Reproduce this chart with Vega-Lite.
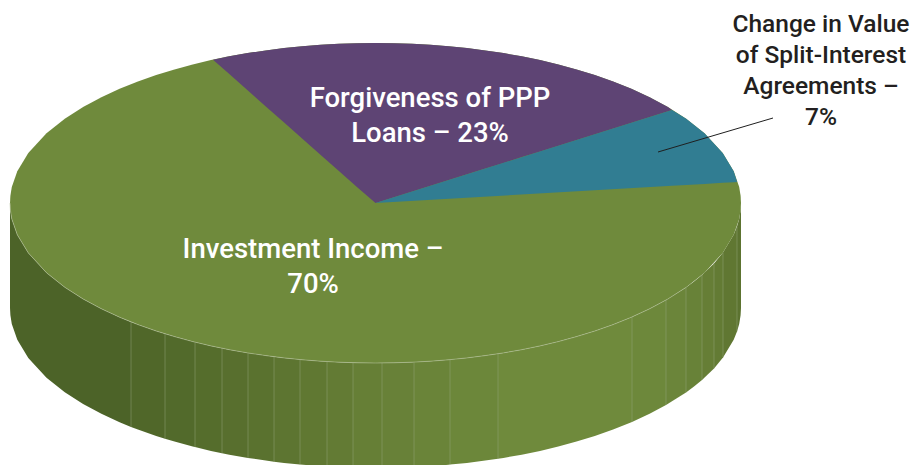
{"$schema":"https://vega.github.io/schema/vega-lite/v6.json","width":915,"height":465,"autosize":{"type":"fit","contains":"padding"},"padding":0,"background":"white","view":{"stroke":null},
"config":{"axis":{"grid":false}},
"datasets":{
"wall":[
{"strip":1,"x":10,"edge":203,"base":308},{"strip":1,"x":10.4,"edge":210.2,"base":315.2},{"strip":1,"x":11.8,"edge":219,"base":324},{"strip":1,"x":17.3,"edge":234.8,"base":339.8},{"strip":1,"x":28.3,"edge":252.9,"base":357.9},{"strip":1,"x":46.5,"edge":272.8,"base":377.8},{"strip":1,"x":64.8,"edge":287.3,"base":392.3},{"strip":1,"x":83.1,"edge":299,"base":404},{"strip":1,"x":101.4,"edge":308.8,"base":413.8},{"strip":1,"x":119.6,"edge":317.2,"base":422.2},{"strip":1,"x":131,"edge":321.9,"base":426.9},
{"strip":2,"x":131,"edge":321.9,"base":426.9},{"strip":2,"x":137.9,"edge":324.6,"base":429.6},{"strip":2,"x":156.2,"edge":331,"base":436},{"strip":2,"x":165,"edge":333.8,"base":438.8},
{"strip":3,"x":165,"edge":333.8,"base":438.8},{"strip":3,"x":174.5,"edge":336.6,"base":441.6},{"strip":3,"x":192.7,"edge":341.6,"base":446.6},{"strip":3,"x":195,"edge":342.1,"base":447.1},
{"strip":4,"x":195,"edge":342.1,"base":447.1},{"strip":4,"x":211,"edge":345.9,"base":450.9},{"strip":4,"x":222,"edge":348.2,"base":453.2},
{"strip":5,"x":222,"edge":348.2,"base":453.2},{"strip":5,"x":229.3,"edge":349.7,"base":454.7},{"strip":5,"x":248,"edge":352.9,"base":457.9},
{"strip":6,"x":248,"edge":352.9,"base":457.9},{"strip":6,"x":265.8,"edge":355.6,"base":460.6},{"strip":6,"x":274,"edge":356.7,"base":461.7},
{"strip":7,"x":274,"edge":356.7,"base":461.7},{"strip":7,"x":284.1,"edge":357.9,"base":462.9},{"strip":7,"x":300,"edge":359.5,"base":464.5},
{"strip":8,"x":300,"edge":359.5,"base":464.5},{"strip":8,"x":320.7,"edge":361.2,"base":466.2},{"strip":8,"x":327,"edge":361.6,"base":466.6},
{"strip":9,"x":327,"edge":361.6,"base":466.6},{"strip":9,"x":338.9,"edge":362.2,"base":467.2},{"strip":9,"x":353,"edge":362.7,"base":467.7},
{"strip":10,"x":353,"edge":362.7,"base":467.7},{"strip":10,"x":375.5,"edge":363,"base":468},{"strip":10,"x":382,"edge":363,"base":468},
{"strip":11,"x":382,"edge":363,"base":468},{"strip":11,"x":393.8,"edge":362.8,"base":467.8},{"strip":11,"x":412.1,"edge":362.2,"base":467.2},{"strip":11,"x":414,"edge":362.1,"base":467.1},
{"strip":12,"x":414,"edge":362.1,"base":467.1},{"strip":12,"x":430.3,"edge":361.2,"base":466.2},{"strip":12,"x":448.6,"edge":359.8,"base":464.8},{"strip":12,"x":450,"edge":359.6,"base":464.6},
{"strip":13,"x":450,"edge":359.6,"base":464.6},{"strip":13,"x":466.9,"edge":357.9,"base":462.9},{"strip":13,"x":485.2,"edge":355.6,"base":460.6},{"strip":13,"x":498,"edge":353.8,"base":458.8},
{"strip":14,"x":498,"edge":353.8,"base":458.8},{"strip":14,"x":503.4,"edge":352.9,"base":457.9},{"strip":14,"x":521.7,"edge":349.7,"base":454.7},{"strip":14,"x":540,"edge":345.9,"base":450.9},{"strip":14,"x":558.3,"edge":341.6,"base":446.6},{"strip":14,"x":576.5,"edge":336.6,"base":441.6},{"strip":14,"x":594.8,"edge":331,"base":436},{"strip":14,"x":613.1,"edge":324.6,"base":429.6},{"strip":14,"x":631.4,"edge":317.2,"base":422.2},{"strip":14,"x":632,"edge":316.9,"base":421.9},
{"strip":15,"x":632,"edge":316.9,"base":421.9},{"strip":15,"x":649.6,"edge":308.8,"base":413.8},{"strip":15,"x":666,"edge":300,"base":405},
{"strip":16,"x":666,"edge":300,"base":405},{"strip":16,"x":686,"edge":287.4,"base":392.4},
{"strip":17,"x":686,"edge":287.4,"base":392.4},{"strip":17,"x":694,"edge":281.6,"base":386.6},{"strip":17,"x":702,"edge":274.9,"base":379.9},
{"strip":18,"x":702,"edge":274.9,"base":379.9},{"strip":18,"x":714,"edge":263.4,"base":368.4},
{"strip":19,"x":714,"edge":263.4,"base":368.4},{"strip":19,"x":723,"edge":252.6,"base":357.6},
{"strip":20,"x":723,"edge":252.6,"base":357.6},{"strip":20,"x":733.7,"edge":234.8,"base":339.8},{"strip":20,"x":737,"edge":226.5,"base":331.5},
{"strip":21,"x":737,"edge":226.5,"base":331.5},{"strip":21,"x":739.2,"edge":219,"base":324},{"strip":21,"x":740.6,"edge":210.2,"base":315.2},{"strip":21,"x":741,"edge":203,"base":308}
],
"seams":[
{"x":131,"edge":321.9,"base":426.9},{"x":165,"edge":333.8,"base":438.8},{"x":195,"edge":342.1,"base":447.1},{"x":222,"edge":348.2,"base":453.2},{"x":248,"edge":352.9,"base":457.9},{"x":274,"edge":356.7,"base":461.7},{"x":300,"edge":359.5,"base":464.5},{"x":327,"edge":361.6,"base":466.6},{"x":353,"edge":362.7,"base":467.7},{"x":382,"edge":363,"base":468},{"x":414,"edge":362.1,"base":467.1},{"x":450,"edge":359.6,"base":464.6},{"x":498,"edge":353.8,"base":458.8},{"x":632,"edge":316.9,"base":421.9},{"x":666,"edge":300,"base":405},{"x":686,"edge":287.4,"base":392.4},{"x":702,"edge":274.9,"base":379.9},{"x":714,"edge":263.4,"base":368.4},{"x":723,"edge":252.6,"base":357.6},{"x":737,"edge":226.5,"base":331.5}
],
"top":[
{"x":10,"upper":203,"lower":203},{"x":10.4,"upper":195.8,"lower":210.2},{"x":11.8,"upper":187,"lower":219},{"x":17.3,"upper":171.2,"lower":234.8},{"x":28.3,"upper":153.1,"lower":252.9},{"x":46.5,"upper":133.2,"lower":272.8},{"x":64.8,"upper":118.7,"lower":287.3},{"x":83.1,"upper":107,"lower":299},{"x":101.4,"upper":97.2,"lower":308.8},{"x":119.6,"upper":88.8,"lower":317.2},{"x":137.9,"upper":81.4,"lower":324.6},{"x":156.2,"upper":75,"lower":331},{"x":174.5,"upper":69.4,"lower":336.6},{"x":192.7,"upper":64.4,"lower":341.6},{"x":211,"upper":60.1,"lower":345.9},{"x":229.3,"upper":56.3,"lower":349.7},{"x":247.6,"upper":53.1,"lower":352.9},{"x":265.8,"upper":50.4,"lower":355.6},{"x":284.1,"upper":48.1,"lower":357.9},{"x":302.4,"upper":46.2,"lower":359.8},{"x":320.7,"upper":44.8,"lower":361.2},{"x":338.9,"upper":43.8,"lower":362.2},{"x":357.2,"upper":43.2,"lower":362.8},{"x":375.5,"upper":43,"lower":363},{"x":393.8,"upper":43.2,"lower":362.8},{"x":412.1,"upper":43.8,"lower":362.2},{"x":430.3,"upper":44.8,"lower":361.2},{"x":448.6,"upper":46.2,"lower":359.8},{"x":466.9,"upper":48.1,"lower":357.9},{"x":485.2,"upper":50.4,"lower":355.6},{"x":503.4,"upper":53.1,"lower":352.9},{"x":521.7,"upper":56.3,"lower":349.7},{"x":540,"upper":60.1,"lower":345.9},{"x":558.3,"upper":64.4,"lower":341.6},{"x":576.5,"upper":69.4,"lower":336.6},{"x":594.8,"upper":75,"lower":331},{"x":613.1,"upper":81.4,"lower":324.6},{"x":631.4,"upper":88.8,"lower":317.2},{"x":649.6,"upper":97.2,"lower":308.8},{"x":667.9,"upper":107,"lower":299},{"x":686.2,"upper":118.7,"lower":287.3},{"x":704.5,"upper":133.2,"lower":272.8},{"x":722.7,"upper":153.1,"lower":252.9},{"x":733.7,"upper":171.2,"lower":234.8},{"x":739.2,"upper":187,"lower":219},{"x":740.6,"upper":195.8,"lower":210.2},{"x":741,"upper":203,"lower":203}
],
"slices":[
{"slice":"Forgiveness of PPP Loans","x":213,"upper":59.7,"lower":59.7},{"slice":"Forgiveness of PPP Loans","x":229.3,"upper":56.3,"lower":74.1},{"slice":"Forgiveness of PPP Loans","x":247.6,"upper":53.1,"lower":90.3},{"slice":"Forgiveness of PPP Loans","x":265.8,"upper":50.4,"lower":106.4},{"slice":"Forgiveness of PPP Loans","x":284.1,"upper":48.1,"lower":122.6},{"slice":"Forgiveness of PPP Loans","x":302.4,"upper":46.2,"lower":138.7},{"slice":"Forgiveness of PPP Loans","x":320.7,"upper":44.8,"lower":155},{"slice":"Forgiveness of PPP Loans","x":338.9,"upper":43.8,"lower":171.1},{"slice":"Forgiveness of PPP Loans","x":357.2,"upper":43.2,"lower":187.2},{"slice":"Forgiveness of PPP Loans","x":375.5,"upper":43,"lower":203},{"slice":"Forgiveness of PPP Loans","x":393.8,"upper":43.2,"lower":197.3},{"slice":"Forgiveness of PPP Loans","x":412.1,"upper":43.8,"lower":191.5},{"slice":"Forgiveness of PPP Loans","x":430.3,"upper":44.8,"lower":185.8},{"slice":"Forgiveness of PPP Loans","x":448.6,"upper":46.2,"lower":180.1},{"slice":"Forgiveness of PPP Loans","x":466.9,"upper":48.1,"lower":174.3},{"slice":"Forgiveness of PPP Loans","x":485.2,"upper":50.4,"lower":168.6},{"slice":"Forgiveness of PPP Loans","x":503.4,"upper":53.1,"lower":162.9},{"slice":"Forgiveness of PPP Loans","x":521.7,"upper":56.3,"lower":157.1},{"slice":"Forgiveness of PPP Loans","x":540,"upper":60.1,"lower":151.4},{"slice":"Forgiveness of PPP Loans","x":558.3,"upper":64.4,"lower":145.7},{"slice":"Forgiveness of PPP Loans","x":576.5,"upper":69.4,"lower":139.9},{"slice":"Forgiveness of PPP Loans","x":594.8,"upper":75,"lower":134.2},{"slice":"Forgiveness of PPP Loans","x":613.1,"upper":81.4,"lower":128.5},{"slice":"Forgiveness of PPP Loans","x":631.4,"upper":88.8,"lower":122.7},{"slice":"Forgiveness of PPP Loans","x":649.6,"upper":97.2,"lower":117},{"slice":"Forgiveness of PPP Loans","x":667.9,"upper":107,"lower":111.3},{"slice":"Forgiveness of PPP Loans","x":672,"upper":110,"lower":110},
{"slice":"Change in Value of Split-Interest Agreements","x":375.5,"upper":203,"lower":203},{"slice":"Change in Value of Split-Interest Agreements","x":672,"upper":110,"lower":185.8},{"slice":"Change in Value of Split-Interest Agreements","x":686.2,"upper":118.7,"lower":185},{"slice":"Change in Value of Split-Interest Agreements","x":704.5,"upper":133.2,"lower":183.9},{"slice":"Change in Value of Split-Interest Agreements","x":722.7,"upper":153.1,"lower":182.8},{"slice":"Change in Value of Split-Interest Agreements","x":733.7,"upper":171.2,"lower":182.2},{"slice":"Change in Value of Split-Interest Agreements","x":737,"upper":181.5,"lower":182}
],
"leader":[{"x":658,"y":152,"x2":773,"y2":118}],
"inside":[{"label":"Investment Income –\n70%","x":313,"y":249.5},{"label":"Forgiveness of PPP\nLoans – 23%","x":430,"y":98.5}],
"outside":[{"label":"Change in Value\nof Split-Interest\nAgreements –\n7%","x":821,"y":25}]
},
"layer":[
{"data":{"name":"wall"},"mark":{"type":"area","interpolate":"linear","clip":true},"encoding":{"x":{"field":"x","type":"quantitative","scale":{"domain":[0,915],"nice":false},"axis":null},"y":{"field":"edge","type":"quantitative","scale":{"domain":[465,0],"nice":false,"zero":false},"axis":null},"y2":{"field":"base"},"color":{"field":"strip","type":"nominal","legend":null,"scale":{"domain":[1,2,3,4,5,6,7,8,9,10,11,12,13,14,15,16,17,18,19,20,21],"range":["#4c6328","#506729","#526a2b","#556d2c","#586f2e","#5a722f","#5d7531","#607832","#637b34","#667f36","#688138","#6a8439","#6c873a","#6f8a3c","#6d883b","#6b853a","#688238","#667e36","#637b34","#607732","#5c7330"]}}}},
{"data":{"name":"seams"},"mark":{"type":"rule","color":"#95a47a","strokeWidth":0.6,"opacity":0.8,"clip":true},"encoding":{"x":{"field":"x","type":"quantitative","scale":{"domain":[0,915],"nice":false},"axis":null},"y":{"field":"edge","type":"quantitative","scale":{"domain":[465,0],"nice":false,"zero":false},"axis":null},"y2":{"field":"base"}}},
{"data":{"name":"top"},"mark":{"type":"area","color":"#6f8a3c"},"encoding":{"x":{"field":"x","type":"quantitative","scale":{"domain":[0,915],"nice":false},"axis":null},"y":{"field":"upper","type":"quantitative","scale":{"domain":[465,0],"nice":false,"zero":false},"axis":null},"y2":{"field":"lower"}}},
{"data":{"name":"top"},"transform":[{"filter":"datum.x <= 686.2"}],"mark":{"type":"line","color":"#b6c29d","strokeWidth":0.8,"opacity":0.7},"encoding":{"x":{"field":"x","type":"quantitative","scale":{"domain":[0,915],"nice":false},"axis":null},"y":{"field":"lower","type":"quantitative","scale":{"domain":[465,0],"nice":false,"zero":false},"axis":null}}},
{"data":{"name":"slices"},"mark":{"type":"area"},"encoding":{"x":{"field":"x","type":"quantitative","scale":{"domain":[0,915],"nice":false},"axis":null},"y":{"field":"upper","type":"quantitative","scale":{"domain":[465,0],"nice":false,"zero":false},"axis":null},"y2":{"field":"lower"},"color":{"field":"slice","type":"nominal","legend":null,"scale":{"domain":["Forgiveness of PPP Loans","Change in Value of Split-Interest Agreements"],"range":["#5e4474","#317d92"]}}}},
{"data":{"name":"leader"},"mark":{"type":"rule","color":"#1f1f1f","strokeWidth":1},"encoding":{"x":{"field":"x","type":"quantitative","scale":{"domain":[0,915],"nice":false},"axis":null},"y":{"field":"y","type":"quantitative","scale":{"domain":[465,0],"nice":false,"zero":false},"axis":null},"x2":{"field":"x2"},"y2":{"field":"y2"}}},
{"data":{"name":"inside"},"mark":{"type":"text","color":"white","font":"Roboto","fontSize":27.5,"fontWeight":500,"lineBreak":"\n","lineHeight":35,"align":"center","baseline":"middle"},"encoding":{"x":{"field":"x","type":"quantitative","scale":{"domain":[0,915],"nice":false},"axis":null},"y":{"field":"y","type":"quantitative","scale":{"domain":[465,0],"nice":false,"zero":false},"axis":null},"text":{"field":"label"}}},
{"data":{"name":"outside"},"mark":{"type":"text","color":"#231f20","font":"Roboto","fontSize":24.5,"fontWeight":500,"lineBreak":"\n","lineHeight":31,"align":"center","baseline":"middle"},"encoding":{"x":{"field":"x","type":"quantitative","scale":{"domain":[0,915],"nice":false},"axis":null},"y":{"field":"y","type":"quantitative","scale":{"domain":[465,0],"nice":false,"zero":false},"axis":null},"text":{"field":"label"}}}
],
"resolve":{"scale":{"color":"independent"}}}
